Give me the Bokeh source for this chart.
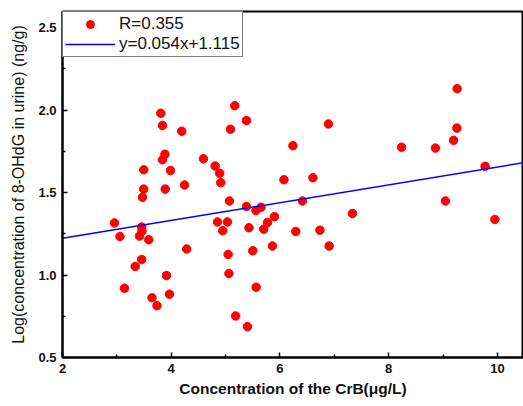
import math
from bokeh.plotting import figure
from bokeh.models import FixedTicker, Range1d, Legend, LegendItem
from bokeh.embed import file_html
from bokeh.resources import INLINE

# ---- data ----
crb = [2.956, 3.057, 3.140, 3.337, 3.416, 3.458, 3.462, 3.458, 3.471, 3.495,
       3.495, 3.587, 3.646, 3.738, 3.808, 3.839, 3.839, 3.885, 3.889, 3.913,
       3.968, 3.986, 4.194, 4.244, 4.284, 4.593, 4.808, 4.851, 4.891, 4.911,
       4.948, 5.034, 5.047, 5.062, 5.071, 5.090, 5.169, 5.185, 5.384, 5.384,
       5.402, 5.430, 5.500, 5.559, 5.562, 5.651, 5.702, 5.770, 5.862, 5.899,
       6.074, 6.239, 6.291, 6.414, 6.607, 6.736, 6.892, 6.905, 7.333, 8.238,
       8.860, 9.044, 9.194, 9.255, 9.259, 9.774, 9.954]
log_ohdg = [1.316, 1.234, 0.920, 1.052, 1.236, 1.291, 1.267, 1.094, 1.472, 1.521,
            1.638, 1.214, 0.862, 0.814, 1.981, 1.907, 1.699, 1.733, 1.521, 0.997,
            0.884, 1.634, 1.872, 1.546, 1.158, 1.705, 1.661, 1.322, 1.617, 1.560,
            1.269, 1.322, 1.125, 1.009, 1.449, 1.884, 2.027, 0.752, 1.937, 1.416,
            0.687, 1.287, 1.147, 1.391, 0.926, 1.411, 1.278, 1.319, 1.176, 1.354,
            1.578, 1.784, 1.264, 1.449, 1.590, 1.272, 1.916, 1.176, 1.373, 1.775,
            1.770, 1.449, 1.817, 1.891, 2.130, 1.659, 1.337]
fit_slope = 0.054
fit_intercept = 1.115
legend_labels = ["R=0.355", "y=0.054x+1.115"]
x_ticks = [2, 4, 6, 8, 10]
x_minor = [3, 5, 7, 9]
y_ticks = [0.5, 1.0, 1.5, 2.0, 2.5]
y_minor = [0.75, 1.25, 1.75, 2.25]
x_title = "Concentration of the CrB(\u03bcg/L)"
y_title = "Log(concentration of 8-OHdG in urine) (ng/g)"

X0, X1 = 2.0, 10.48
Y0, Y1 = 0.5, 2.598

p = figure(width=523, height=406, output_backend="svg", toolbar_location=None,
           x_range=Range1d(X0, X1), y_range=Range1d(Y0, Y1),
           min_border_left=62, min_border_right=0, min_border_top=11,
           min_border_bottom=49)
p.background_fill_color = "white"
p.border_fill_color = "white"
p.outline_line_color = "black"
p.outline_line_width = 2
p.xgrid.visible = False
p.ygrid.visible = False

pts = p.scatter(crb, log_ohdg, size=8.5, marker="circle", fill_color="#ff0000",
                line_color="#ff0000")
fit_x = [X0, X1]
fit_y = [fit_slope * v + fit_intercept for v in fit_x]
ln = p.line(fit_x, fit_y, line_color="#0000ff", line_width=1.5)

for ax in (p.xaxis[0], p.yaxis[0]):
    ax.axis_line_color = "black"
    ax.axis_line_width = 2
    ax.major_tick_in = 5
    ax.major_tick_out = 0
    ax.minor_tick_in = 3
    ax.minor_tick_out = 0
    ax.major_tick_line_width = 1.5
    ax.minor_tick_line_width = 1.5
    ax.major_tick_line_color = "black"
    ax.minor_tick_line_color = "black"
    ax.major_label_text_font = "Liberation Sans"
    ax.major_label_text_font_style = "bold"
    ax.major_label_text_font_size = "13px"
    ax.major_label_text_color = "#111111"
    ax.major_label_standoff = 6

p.xaxis.ticker = FixedTicker(ticks=x_ticks, minor_ticks=x_minor)
p.yaxis.ticker = FixedTicker(ticks=y_ticks, minor_ticks=y_minor)
p.xaxis.major_label_overrides = {t: str(t) for t in x_ticks}
p.yaxis.major_label_overrides = {t: f"{t:.1f}" for t in y_ticks}

p.xaxis.axis_label = x_title
p.xaxis.axis_label_text_font = "Liberation Sans"
p.xaxis.axis_label_text_font_style = "bold"
p.xaxis.axis_label_text_font_size = "15.5px"
p.xaxis.axis_label_text_color = "#111111"
p.xaxis.axis_label_standoff = 4

yax = p.yaxis[0]
yax.axis_label = y_title
yax.axis_label_text_font = "Liberation Sans"
yax.axis_label_text_font_style = "normal"
yax.axis_label_text_font_size = "16px"
yax.axis_label_text_color = "#111111"
yax.axis_label_standoff = 8

legend = Legend(items=[LegendItem(label=legend_labels[0], renderers=[pts]),
                       LegendItem(label=legend_labels[1], renderers=[ln])],
                location="top_left", margin=0, padding=2, spacing=0,
                glyph_width=50, glyph_height=20, label_height=20,
                label_standoff=4, border_line_color="black", border_line_width=1,
                label_text_font="Liberation Sans", label_text_font_size="17px",
                label_text_color="#111111",
                background_fill_color="white", background_fill_alpha=1)
p.add_layout(legend)

open("out.html", "w").write(file_html(p, INLINE))
